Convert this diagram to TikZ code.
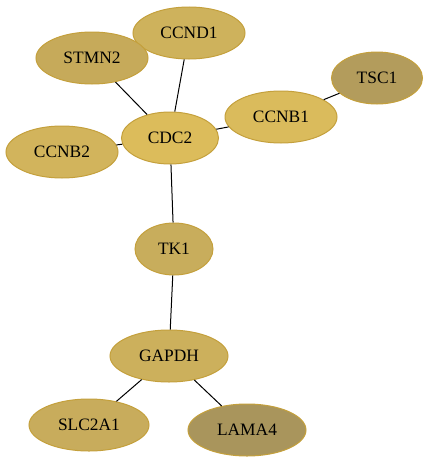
\documentclass[tikz,border=0pt]{standalone}
\usepackage{fontspec}
\setmainfont{Liberation Serif}
\usetikzlibrary{shapes.geometric}
\definecolor{cCCND1}{RGB}{206,178,92}
\definecolor{cSTMN2}{RGB}{198,170,90}
\definecolor{cTSC1}{RGB}{179,156,92}
\definecolor{cCCNB1}{RGB}{218,187,92}
\definecolor{cCDC2}{RGB}{220,188,91}
\definecolor{cCCNB2}{RGB}{210,180,92}
\definecolor{cTK1}{RGB}{200,173,92}
\definecolor{cGAPDH}{RGB}{204,176,92}
\definecolor{cSLC2A1}{RGB}{200,172,92}
\definecolor{cLAMA4}{RGB}{169,149,92}
\definecolor{bord}{RGB}{196,160,60}
\begin{document}
\begin{tikzpicture}[x=1pt,y=-1pt,
  gene/.style={ellipse,draw=bord,line width=1pt,inner sep=0pt,minimum height=52pt,font=\fontsize{17.4}{20}\selectfont},
  link/.style={draw=black,line width=1pt}]
\useasboundingbox (0,0) rectangle (429,463);
\node[gene,fill=cCCND1,minimum width=112pt] (CCND1) at (189,33) {CCND1};
\node[gene,fill=cSTMN2,minimum width=112pt] (STMN2) at (92,58) {STMN2};
\node[gene,fill=cTSC1,minimum width=91pt] (TSC1) at (377,78) {TSC1};
\node[gene,fill=cCCNB1,minimum width=112pt] (CCNB1) at (281,117) {CCNB1};
\node[gene,fill=cCDC2,minimum width=97pt] (CDC2) at (170,138) {CDC2};
\node[gene,fill=cCCNB2,minimum width=112pt] (CCNB2) at (62,152) {CCNB2};
\node[gene,fill=cTK1,minimum width=78pt] (TK1) at (174,249) {TK1};
\node[gene,fill=cGAPDH,minimum width=118pt] (GAPDH) at (169,356) {GAPDH};
\node[gene,fill=cSLC2A1,minimum width=120pt] (SLC2A1) at (89,425) {SLC2A1};
\node[gene,fill=cLAMA4,minimum width=118pt] (LAMA4) at (247,430) {LAMA4};
\draw[link] (CDC2) -- (STMN2);
\draw[link] (CDC2) -- (CCND1);
\draw[link] (CDC2) -- (CCNB1);
\draw[link] (CDC2) -- (CCNB2);
\draw[link] (CCNB1) -- (TSC1);
\draw[link] (CDC2) -- (TK1);
\draw[link] (TK1) -- (GAPDH);
\draw[link] (GAPDH) -- (SLC2A1);
\draw[link] (GAPDH) -- (LAMA4);
\end{tikzpicture}
\end{document}
